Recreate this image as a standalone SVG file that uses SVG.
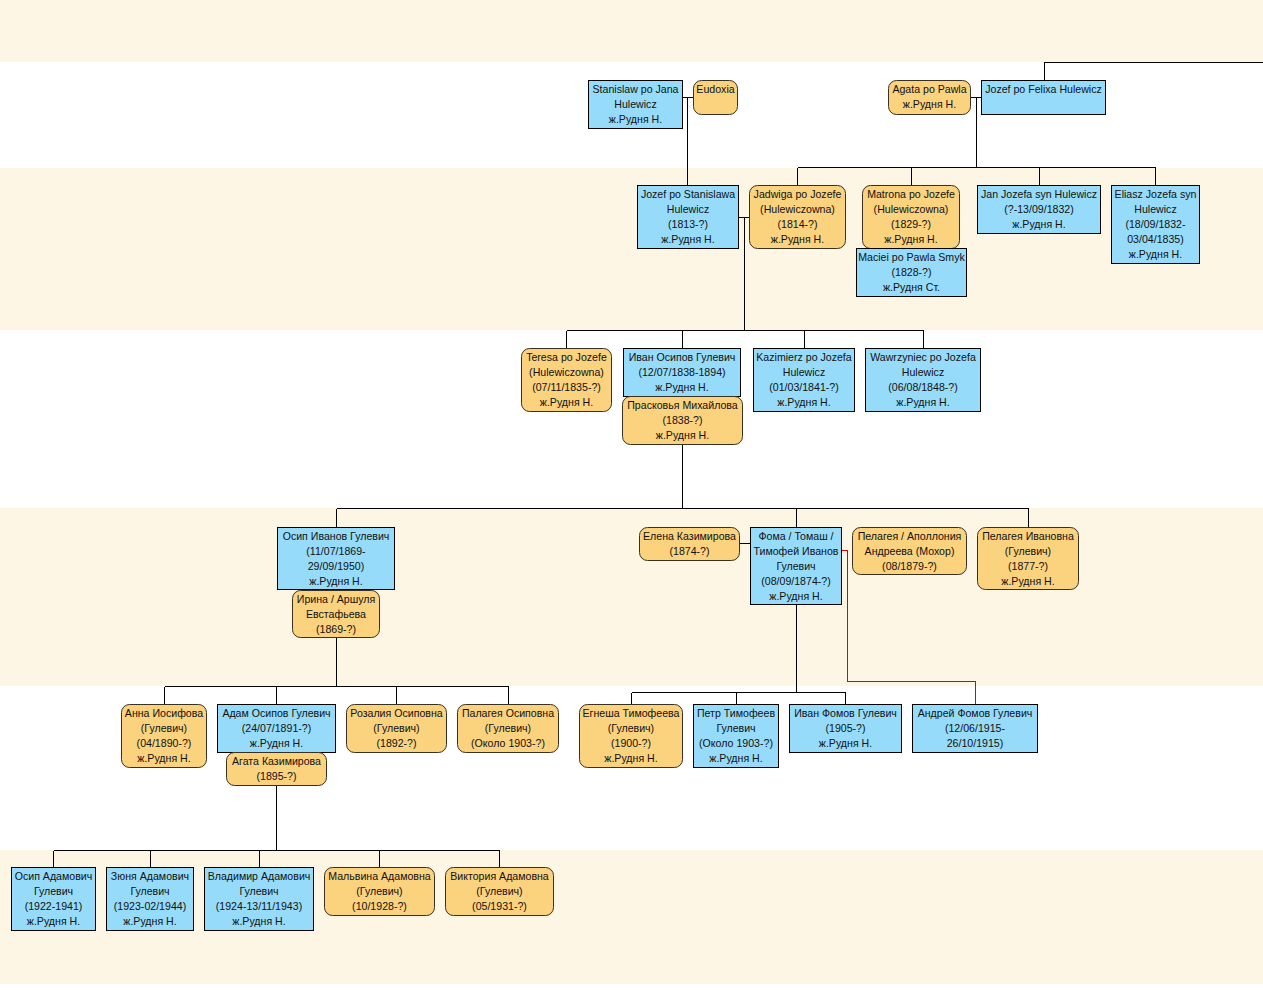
<svg xmlns="http://www.w3.org/2000/svg" width="1263" height="990" viewBox="0 0 1263 990">
<style>
.band{fill:#fef6e4}
.m{fill:#96dcfa;stroke:#000;stroke-width:1}
.f{fill:#fbd27e;stroke:#3a3020;stroke-width:1}
text{font-family:"Liberation Sans",Arial,sans-serif;font-size:10.6px;fill:#111;text-anchor:middle}
.c{fill:none;stroke:#000;stroke-width:1}
.r{fill:none;stroke:#e00000;stroke-width:1}
</style>
<rect x="0" y="0" width="1263" height="990" fill="#fff"/>
<g id="bands">
<rect class="band" x="0" y="0" width="1263" height="62"/>
<rect class="band" x="0" y="168" width="1263" height="162"/>
<rect class="band" x="0" y="508" width="1263" height="178"/>
<rect class="band" x="0" y="850" width="1263" height="134"/>
</g>
<g id="connectors" shape-rendering="crispEdges">
<path class="c" d="M682,97.5H693M687.5,97.5V185"/>
<path class="c" d="M970,97.5H981M976.5,97.5V167.5M797.5,167.5H1155.5M797.5,167.5V185M911.5,167.5V185M1039.5,167.5V185M1155.5,167.5V185"/>
<path class="c" d="M1044.5,80V62.5H1263"/>
<path class="c" d="M738,217.5H749M744.5,217.5V330.5M566.5,330.5H923.5M566.5,330.5V348M682.5,330.5V348M804.5,330.5V348M923.5,330.5V348"/>
<path class="c" d="M682.5,444V508.5M336.5,508.5H1028.5M336.5,508.5V527M796.5,508.5V527M1028.5,508.5V527"/>
<path class="c" d="M739,543.5H750"/>
<path class="r" d="M842,550.5H847.5V681.5H975.5V704"/>
<path class="c" d="M336.5,637V686.5M164.5,686.5H508.5M164.5,686.5V704M276.5,686.5V704M396.5,686.5V704M508.5,686.5V704"/>
<path class="c" d="M796.5,604V692.5M631.5,692.5H845.5M631.5,692.5V704M736.5,692.5V704M845.5,692.5V704"/>
<path class="c" d="M276.5,786V850.5M53.5,850.5H499.5M53.5,850.5V867M150.5,850.5V867M259.5,850.5V867M379.5,850.5V867M499.5,850.5V867"/>
</g>
<g id="n1"><rect class="m" x="588.5" y="80.5" width="94" height="48"/><text x="635.5" y="93">Stanislaw po Jana</text><text x="635.5" y="108">Hulewicz</text><text x="635.5" y="123">ж.Рудня Н.</text></g>
<g id="n2"><rect class="f" x="693.5" y="80.5" width="44" height="34" rx="8"/><text x="715.5" y="93">Eudoxia</text></g>
<g id="n3"><rect class="f" x="888.5" y="80.5" width="82" height="34" rx="8"/><text x="929.5" y="93">Agata po Pawla</text><text x="929.5" y="108">ж.Рудня Н.</text></g>
<g id="n4"><rect class="m" x="981.5" y="80.5" width="124" height="34"/><text x="1043.5" y="93">Jozef po Felixa Hulewicz</text></g>
<g id="n5"><rect class="m" x="637.5" y="185.5" width="101" height="63"/><text x="688" y="198">Jozef po Stanislawa</text><text x="688" y="213">Hulewicz</text><text x="688" y="228">(1813-?)</text><text x="688" y="243">ж.Рудня Н.</text></g>
<g id="n6"><rect class="f" x="749.5" y="185.5" width="96" height="63" rx="8"/><text x="797.5" y="198">Jadwiga po Jozefe</text><text x="797.5" y="213">(Hulewiczowna)</text><text x="797.5" y="228">(1814-?)</text><text x="797.5" y="243">ж.Рудня Н.</text></g>
<g id="n7"><rect class="f" x="862.5" y="185.5" width="97" height="63" rx="8"/><text x="911" y="198">Matrona po Jozefe</text><text x="911" y="213">(Hulewiczowna)</text><text x="911" y="228">(1829-?)</text><text x="911" y="243">ж.Рудня Н.</text></g>
<g id="n8"><rect class="m" x="856.5" y="248.5" width="110" height="48"/><text x="911.5" y="261">Maciei po Pawla Smyk</text><text x="911.5" y="276">(1828-?)</text><text x="911.5" y="291">ж.Рудня Ст.</text></g>
<g id="n9"><rect class="m" x="977.5" y="185.5" width="123" height="48"/><text x="1039" y="198">Jan Jozefa syn Hulewicz</text><text x="1039" y="213">(?-13/09/1832)</text><text x="1039" y="228">ж.Рудня Н.</text></g>
<g id="n10"><rect class="m" x="1111.5" y="185.5" width="88" height="78"/><text x="1155.5" y="198">Eliasz Jozefa syn</text><text x="1155.5" y="213">Hulewicz</text><text x="1155.5" y="228">(18/09/1832-</text><text x="1155.5" y="243">03/04/1835)</text><text x="1155.5" y="258">ж.Рудня Н.</text></g>
<g id="n11"><rect class="f" x="521.5" y="348.5" width="90" height="63" rx="8"/><text x="566.5" y="361">Teresa po Jozefe</text><text x="566.5" y="376">(Hulewiczowna)</text><text x="566.5" y="391">(07/11/1835-?)</text><text x="566.5" y="406">ж.Рудня Н.</text></g>
<g id="n12"><rect class="m" x="623.5" y="348.5" width="117" height="48"/><text x="682" y="361">Иван Осипов Гулевич</text><text x="682" y="376">(12/07/1838-1894)</text><text x="682" y="391">ж.Рудня Н.</text></g>
<g id="n13"><rect class="f" x="622.5" y="396.5" width="120" height="48" rx="8"/><text x="682.5" y="409">Прасковья Михайлова</text><text x="682.5" y="424">(1838-?)</text><text x="682.5" y="439">ж.Рудня Н.</text></g>
<g id="n14"><rect class="m" x="753.5" y="348.5" width="101" height="63"/><text x="804" y="361">Kazimierz po Jozefa</text><text x="804" y="376">Hulewicz</text><text x="804" y="391">(01/03/1841-?)</text><text x="804" y="406">ж.Рудня Н.</text></g>
<g id="n15"><rect class="m" x="865.5" y="348.5" width="115" height="63"/><text x="923" y="361">Wawrzyniec po Jozefa</text><text x="923" y="376">Hulewicz</text><text x="923" y="391">(06/08/1848-?)</text><text x="923" y="406">ж.Рудня Н.</text></g>
<g id="n16"><rect class="m" x="277.5" y="527.5" width="117" height="62"/><text x="336" y="540">Осип Иванов Гулевич</text><text x="336" y="555">(11/07/1869-</text><text x="336" y="570">29/09/1950)</text><text x="336" y="585">ж.Рудня Н.</text></g>
<g id="n17"><rect class="f" x="292.5" y="590.5" width="87" height="47" rx="8"/><text x="336" y="603">Ирина / Аршуля</text><text x="336" y="618">Евстафьева</text><text x="336" y="633">(1869-?)</text></g>
<g id="n18"><rect class="f" x="639.5" y="527.5" width="100" height="33" rx="8"/><text x="689.5" y="540">Елена Казимирова</text><text x="689.5" y="555">(1874-?)</text></g>
<g id="n19"><rect class="m" x="750.5" y="527.5" width="91" height="77"/><text x="796" y="540">Фома / Томаш /</text><text x="796" y="555">Тимофей Иванов</text><text x="796" y="570">Гулевич</text><text x="796" y="585">(08/09/1874-?)</text><text x="796" y="600">ж.Рудня Н.</text></g>
<g id="n20"><rect class="f" x="852.5" y="527.5" width="114" height="47" rx="8"/><text x="909.5" y="540">Пелагея / Аполлония</text><text x="909.5" y="555">Андреева (Мохор)</text><text x="909.5" y="570">(08/1879-?)</text></g>
<g id="n21"><rect class="f" x="977.5" y="527.5" width="101" height="62" rx="8"/><text x="1028" y="540">Пелагея Ивановна</text><text x="1028" y="555">(Гулевич)</text><text x="1028" y="570">(1877-?)</text><text x="1028" y="585">ж.Рудня Н.</text></g>
<g id="n22"><rect class="f" x="121.5" y="704.5" width="85" height="63" rx="8"/><text x="164" y="717">Анна Иосифова</text><text x="164" y="732">(Гулевич)</text><text x="164" y="747">(04/1890-?)</text><text x="164" y="762">ж.Рудня Н.</text></g>
<g id="n23"><rect class="m" x="217.5" y="704.5" width="118" height="48"/><text x="276.5" y="717">Адам Осипов Гулевич</text><text x="276.5" y="732">(24/07/1891-?)</text><text x="276.5" y="747">ж.Рудня Н.</text></g>
<g id="n24"><rect class="f" x="226.5" y="752.5" width="100" height="33" rx="8"/><text x="276.5" y="765">Агата Казимирова</text><text x="276.5" y="780">(1895-?)</text></g>
<g id="n25"><rect class="f" x="346.5" y="704.5" width="100" height="48" rx="8"/><text x="396.5" y="717">Розалия Осиповна</text><text x="396.5" y="732">(Гулевич)</text><text x="396.5" y="747">(1892-?)</text></g>
<g id="n26"><rect class="f" x="457.5" y="704.5" width="101" height="48" rx="8"/><text x="508" y="717">Палагея Осиповна</text><text x="508" y="732">(Гулевич)</text><text x="508" y="747">(Около 1903-?)</text></g>
<g id="n27"><rect class="f" x="579.5" y="704.5" width="103" height="63" rx="8"/><text x="631" y="717">Егнеша Тимофеева</text><text x="631" y="732">(Гулевич)</text><text x="631" y="747">(1900-?)</text><text x="631" y="762">ж.Рудня Н.</text></g>
<g id="n28"><rect class="m" x="693.5" y="704.5" width="85" height="63"/><text x="736" y="717">Петр Тимофеев</text><text x="736" y="732">Гулевич</text><text x="736" y="747">(Около 1903-?)</text><text x="736" y="762">ж.Рудня Н.</text></g>
<g id="n29"><rect class="m" x="789.5" y="704.5" width="112" height="48"/><text x="845.5" y="717">Иван Фомов Гулевич</text><text x="845.5" y="732">(1905-?)</text><text x="845.5" y="747">ж.Рудня Н.</text></g>
<g id="n30"><rect class="m" x="912.5" y="704.5" width="125" height="48"/><text x="975" y="717">Андрей Фомов Гулевич</text><text x="975" y="732">(12/06/1915-</text><text x="975" y="747">26/10/1915)</text></g>
<g id="n31"><rect class="m" x="11.5" y="867.5" width="84" height="63"/><text x="53.5" y="880">Осип Адамович</text><text x="53.5" y="895">Гулевич</text><text x="53.5" y="910">(1922-1941)</text><text x="53.5" y="925">ж.Рудня Н.</text></g>
<g id="n32"><rect class="m" x="106.5" y="867.5" width="87" height="63"/><text x="150" y="880">Зюня Адамович</text><text x="150" y="895">Гулевич</text><text x="150" y="910">(1923-02/1944)</text><text x="150" y="925">ж.Рудня Н.</text></g>
<g id="n33"><rect class="m" x="204.5" y="867.5" width="109" height="63"/><text x="259" y="880">Владимир Адамович</text><text x="259" y="895">Гулевич</text><text x="259" y="910">(1924-13/11/1943)</text><text x="259" y="925">ж.Рудня Н.</text></g>
<g id="n34"><rect class="f" x="324.5" y="867.5" width="110" height="48" rx="8"/><text x="379.5" y="880">Мальвина Адамовна</text><text x="379.5" y="895">(Гулевич)</text><text x="379.5" y="910">(10/1928-?)</text></g>
<g id="n35"><rect class="f" x="445.5" y="867.5" width="108" height="48" rx="8"/><text x="499.5" y="880">Виктория Адамовна</text><text x="499.5" y="895">(Гулевич)</text><text x="499.5" y="910">(05/1931-?)</text></g>
</svg>
